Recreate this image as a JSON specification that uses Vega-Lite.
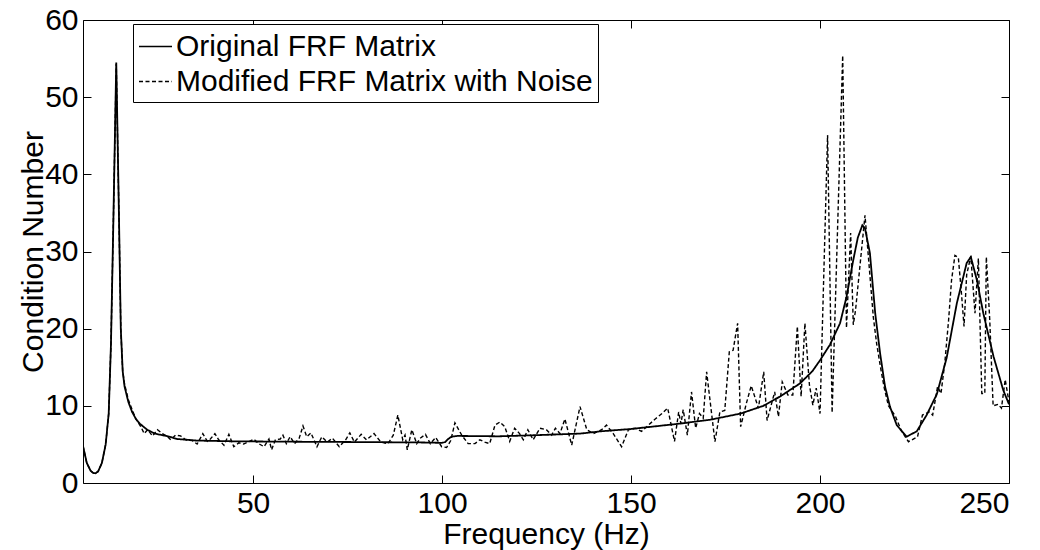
{
  "$schema": "https://vega.github.io/schema/vega-lite/v6.json",
  "width": 926,
  "height": 463,
  "autosize": {"type": "none"},
  "padding": {"left": 83, "top": 20, "right": 31, "bottom": 67},
  "background": "white",
  "config": {
    "font": "Liberation Sans",
    "view": {"stroke": "black", "strokeWidth": 1},
    "axis": {
      "domain": false,
      "grid": false,
      "tickColor": "black",
      "tickSize": -8,
      "tickWidth": 1,
      "labelColor": "black",
      "titleColor": "black",
      "labelFontSize": 30,
      "titleFontSize": 30,
      "titleFontWeight": "normal",
      "labelFont": "Liberation Sans",
      "titleFont": "Liberation Sans"
    }
  },
  "datasets": {
    "orig": [
      {"f": 5, "v": 4.8}, {"f": 6, "v": 2.6}, {"f": 7, "v": 1.6}, {"f": 7.7, "v": 1.3}, {"f": 8.3, "v": 1.25},
      {"f": 9, "v": 1.5}, {"f": 10, "v": 2.6}, {"f": 11, "v": 5}, {"f": 11.8, "v": 9}, {"f": 12.4, "v": 18},
      {"f": 13, "v": 33}, {"f": 13.8, "v": 54.5}, {"f": 14.5, "v": 35}, {"f": 15, "v": 20}, {"f": 15.5, "v": 14.5},
      {"f": 16, "v": 12.5}, {"f": 17, "v": 10.5}, {"f": 18, "v": 9.2}, {"f": 19, "v": 8.3}, {"f": 20, "v": 7.7},
      {"f": 22, "v": 6.9}, {"f": 24, "v": 6.4}, {"f": 27, "v": 6.1}, {"f": 30, "v": 5.7}, {"f": 35, "v": 5.5},
      {"f": 45, "v": 5.4}, {"f": 60, "v": 5.35}, {"f": 80, "v": 5.3}, {"f": 95, "v": 5.25}, {"f": 100, "v": 5.2},
      {"f": 100.8, "v": 5.3}, {"f": 101.6, "v": 5.7}, {"f": 102.5, "v": 6.0}, {"f": 104, "v": 6.1}, {"f": 115, "v": 6.05},
      {"f": 125, "v": 6.2}, {"f": 136.5, "v": 6.4}, {"f": 142, "v": 6.7}, {"f": 150, "v": 7.0}, {"f": 163, "v": 7.7},
      {"f": 171, "v": 8.2}, {"f": 179, "v": 9.0}, {"f": 185, "v": 10.0}, {"f": 189.4, "v": 11.2}, {"f": 194.7, "v": 12.9},
      {"f": 198, "v": 14.5}, {"f": 200, "v": 15.9}, {"f": 202.6, "v": 17.9}, {"f": 205.3, "v": 20.7}, {"f": 207, "v": 24.1},
      {"f": 208.8, "v": 28.9}, {"f": 210, "v": 31.8}, {"f": 211.2, "v": 33.4}, {"f": 211.9, "v": 33.0}, {"f": 213.2, "v": 29.8},
      {"f": 214.6, "v": 22.0}, {"f": 215.9, "v": 16.8}, {"f": 217.2, "v": 12.5}, {"f": 218.5, "v": 9.9}, {"f": 220.3, "v": 7.5},
      {"f": 222.9, "v": 6.0}, {"f": 225.6, "v": 6.7}, {"f": 228.2, "v": 8.8}, {"f": 230.9, "v": 11.5}, {"f": 233.5, "v": 16.2},
      {"f": 236.2, "v": 23.3}, {"f": 238.8, "v": 28.5}, {"f": 239.9, "v": 29.3}, {"f": 241.5, "v": 26.3}, {"f": 243.2, "v": 22.0},
      {"f": 245.9, "v": 16.4}, {"f": 248.5, "v": 12.0}, {"f": 250, "v": 10.2}
    ],
    "noisy": [
      {"f": 5, "v": 4.8}, {"f": 6, "v": 2.6}, {"f": 7, "v": 1.6}, {"f": 7.7, "v": 1.3}, {"f": 8.3, "v": 1.25},
      {"f": 9, "v": 1.5}, {"f": 10, "v": 2.6}, {"f": 11, "v": 5}, {"f": 11.8, "v": 9}, {"f": 12.4, "v": 18},
      {"f": 13, "v": 33}, {"f": 13.8, "v": 54.3}, {"f": 14.5, "v": 35}, {"f": 15, "v": 20}, {"f": 15.5, "v": 14.5},
      {"f": 16, "v": 12.8}, {"f": 17, "v": 10.8}, {"f": 18, "v": 9.5}, {"f": 19, "v": 8.3}, {"f": 20.3, "v": 7.3},
      {"f": 21.2, "v": 6.4}, {"f": 22.1, "v": 6.9}, {"f": 23.4, "v": 6.1}, {"f": 24.7, "v": 6.9}, {"f": 26, "v": 6.4},
      {"f": 27.4, "v": 6.0}, {"f": 28.2, "v": 5.6}, {"f": 29.5, "v": 6.2}, {"f": 30.8, "v": 6.1}, {"f": 32.2, "v": 5.6},
      {"f": 33.9, "v": 5.5}, {"f": 35.2, "v": 5.05}, {"f": 36.7, "v": 6.4}, {"f": 37.9, "v": 5.4}, {"f": 38.7, "v": 5.7},
      {"f": 39.9, "v": 6.4}, {"f": 40.9, "v": 5.6}, {"f": 42.3, "v": 4.9}, {"f": 43.6, "v": 6.3}, {"f": 44.9, "v": 4.7},
      {"f": 46.2, "v": 5.2}, {"f": 47.5, "v": 5.05}, {"f": 48.9, "v": 5.35}, {"f": 50.2, "v": 5.7}, {"f": 51.5, "v": 5.1},
      {"f": 52.9, "v": 4.7}, {"f": 54.2, "v": 5.7}, {"f": 54.9, "v": 4.3}, {"f": 55.9, "v": 5.6}, {"f": 57.2, "v": 5.7},
      {"f": 57.9, "v": 6.2}, {"f": 58.8, "v": 5.1}, {"f": 59.8, "v": 6.0}, {"f": 61, "v": 5.1}, {"f": 62.2, "v": 5.8},
      {"f": 63.2, "v": 7.4}, {"f": 64.2, "v": 6.0}, {"f": 65.3, "v": 6.5}, {"f": 66.9, "v": 4.7}, {"f": 68.2, "v": 6.0},
      {"f": 69.6, "v": 5.3}, {"f": 71, "v": 5.8}, {"f": 72.8, "v": 4.7}, {"f": 74.5, "v": 5.6}, {"f": 75.6, "v": 6.5},
      {"f": 76.8, "v": 5.3}, {"f": 78.6, "v": 6.3}, {"f": 80, "v": 5.6}, {"f": 82, "v": 6.4}, {"f": 83.8, "v": 5.3},
      {"f": 85.7, "v": 5.1}, {"f": 87.1, "v": 6.2}, {"f": 88.3, "v": 8.8}, {"f": 89.6, "v": 5.6}, {"f": 90.2, "v": 6.2},
      {"f": 90.8, "v": 4.3}, {"f": 92, "v": 6.9}, {"f": 93.3, "v": 5.1}, {"f": 94.2, "v": 5.8}, {"f": 95.6, "v": 6.3},
      {"f": 96.9, "v": 5.1}, {"f": 98.3, "v": 5.9}, {"f": 99.9, "v": 4.7}, {"f": 101.2, "v": 4.6}, {"f": 102.3, "v": 5.5},
      {"f": 103.4, "v": 7.8}, {"f": 105.2, "v": 6.2}, {"f": 106.9, "v": 5.1}, {"f": 108.7, "v": 5.1}, {"f": 110, "v": 5.6},
      {"f": 111.3, "v": 5.3}, {"f": 112.6, "v": 5.1}, {"f": 114, "v": 7.5}, {"f": 115.3, "v": 7.9}, {"f": 116.6, "v": 7.3},
      {"f": 117.9, "v": 5.4}, {"f": 119.2, "v": 7.1}, {"f": 120.5, "v": 6.4}, {"f": 121.5, "v": 5.6}, {"f": 122.7, "v": 6.9},
      {"f": 124.1, "v": 5.6}, {"f": 125.9, "v": 7.1}, {"f": 127.6, "v": 6.9}, {"f": 129, "v": 6.2}, {"f": 130, "v": 7.1},
      {"f": 131.2, "v": 6.4}, {"f": 132.5, "v": 8.3}, {"f": 134.3, "v": 4.9}, {"f": 136.5, "v": 9.9}, {"f": 138.3, "v": 6.9},
      {"f": 140, "v": 6.4}, {"f": 142.2, "v": 6.9}, {"f": 143.5, "v": 7.5}, {"f": 145.3, "v": 6.4}, {"f": 147.5, "v": 4.7},
      {"f": 149.3, "v": 6.9}, {"f": 151.1, "v": 7.1}, {"f": 152.8, "v": 6.7}, {"f": 154.6, "v": 7.5}, {"f": 156.4, "v": 8.3},
      {"f": 158.2, "v": 9.0}, {"f": 159.7, "v": 9.7}, {"f": 161.5, "v": 5.4}, {"f": 162.6, "v": 9.2}, {"f": 163.2, "v": 7.7},
      {"f": 163.8, "v": 9.5}, {"f": 164.9, "v": 6.2}, {"f": 166, "v": 11.8}, {"f": 167.1, "v": 7.1}, {"f": 168.1, "v": 9.0},
      {"f": 169.1, "v": 8.4}, {"f": 170, "v": 14.4}, {"f": 172.2, "v": 5.35}, {"f": 173.5, "v": 9.2}, {"f": 174.8, "v": 9.4},
      {"f": 176, "v": 17.0}, {"f": 177, "v": 17.2}, {"f": 178.2, "v": 20.7}, {"f": 179, "v": 7.3}, {"f": 180.5, "v": 10.3},
      {"f": 181.8, "v": 12.6}, {"f": 183.7, "v": 9.7}, {"f": 185.1, "v": 14.4}, {"f": 186, "v": 8.1}, {"f": 188, "v": 11.8},
      {"f": 189, "v": 8.6}, {"f": 190, "v": 13.1}, {"f": 191.5, "v": 11.4}, {"f": 192.8, "v": 11.4}, {"f": 194, "v": 20.3},
      {"f": 195, "v": 11.2}, {"f": 196, "v": 20.7}, {"f": 197.2, "v": 12.7}, {"f": 198.1, "v": 10.1}, {"f": 199, "v": 12.3},
      {"f": 200, "v": 9.0}, {"f": 202, "v": 45.1}, {"f": 203.2, "v": 9.1}, {"f": 206, "v": 55.4}, {"f": 207, "v": 20.1},
      {"f": 208.1, "v": 32.4}, {"f": 208.8, "v": 20.5}, {"f": 209.4, "v": 22.4}, {"f": 211.9, "v": 34.7}, {"f": 214.1, "v": 21.5},
      {"f": 215, "v": 18}, {"f": 216, "v": 15}, {"f": 217, "v": 12.3}, {"f": 218.1, "v": 10.0}, {"f": 219.9, "v": 8.7},
      {"f": 221.5, "v": 6.8}, {"f": 223.4, "v": 5.35}, {"f": 225.8, "v": 6.0}, {"f": 227.1, "v": 8.8}, {"f": 228.9, "v": 9.2},
      {"f": 229.8, "v": 8.8}, {"f": 231.1, "v": 12.5}, {"f": 232, "v": 11.6}, {"f": 233, "v": 15.5}, {"f": 234, "v": 21},
      {"f": 234.8, "v": 26.3}, {"f": 235.7, "v": 29.5}, {"f": 236.6, "v": 29.2}, {"f": 237.5, "v": 24.1}, {"f": 238.1, "v": 20.3},
      {"f": 238.8, "v": 27.0}, {"f": 239.9, "v": 29.4}, {"f": 241, "v": 22.0}, {"f": 241.9, "v": 29.1}, {"f": 242.8, "v": 11.6},
      {"f": 243.6, "v": 11.6}, {"f": 244, "v": 29.3}, {"f": 244.9, "v": 21.2}, {"f": 245.8, "v": 10.0}, {"f": 247.1, "v": 10.2},
      {"f": 248, "v": 9.7}, {"f": 249, "v": 13.4}, {"f": 250, "v": 10.5}
    ]
  },
  "layer": [
    {
      "data": {"name": "orig"},
      "mark": {"type": "line", "color": "black", "strokeWidth": 1.8, "clip": true},
      "encoding": {
        "x": {
          "field": "f",
          "type": "quantitative",
          "scale": {"domain": [5, 250], "nice": false, "zero": false},
          "axis": {"orient": "bottom", "values": [50, 100, 150, 200, 250], "labelPadding": 13, "title": "Frequency (Hz)", "titleBaseline": "alphabetic", "titleY": 60}
        },
        "y": {
          "field": "v",
          "type": "quantitative",
          "scale": {"domain": [0, 60], "nice": false, "zero": true},
          "axis": {"orient": "left", "values": [0, 10, 20, 30, 40, 50, 60], "labelPadding": 13, "title": "Condition Number", "titleBaseline": "alphabetic", "titleX": -41}
        },
        "strokeDash": {
          "datum": "Original FRF Matrix",
          "type": "nominal",
          "scale": {"domain": ["Original FRF Matrix", "Modified FRF Matrix with Noise"], "range": [[1, 0], [4, 2.5]]},
          "legend": {
            "title": null,
            "orient": "none",
            "legendX": 50,
            "legendY": 4,
            "strokeColor": "black",
            "fillColor": "white",
            "padding": 5,
            "labelFontSize": 30,
            "labelFont": "Liberation Sans",
            "labelColor": "black",
            "labelLimit": 0,
            "labelOffset": 3,
            "symbolType": "stroke",
            "symbolSize": 1089,
            "symbolStrokeColor": "black",
            "symbolStrokeWidth": 1.5,
            "rowPadding": 2,
            "cornerRadius": 0
          }
        }
      }
    },
    {
      "data": {"name": "noisy"},
      "mark": {"type": "line", "color": "black", "strokeWidth": 1.4, "clip": true},
      "encoding": {
        "x": {
          "field": "f",
          "type": "quantitative",
          "axis": {"orient": "top", "values": [50, 100, 150, 200, 250], "labels": false, "title": null}
        },
        "y": {
          "field": "v",
          "type": "quantitative",
          "axis": {"orient": "right", "values": [0, 10, 20, 30, 40, 50, 60], "labels": false, "title": null}
        },
        "strokeDash": {"datum": "Modified FRF Matrix with Noise", "type": "nominal"}
      }
    }
  ],
  "resolve": {"axis": {"x": "independent", "y": "independent"}}
}
